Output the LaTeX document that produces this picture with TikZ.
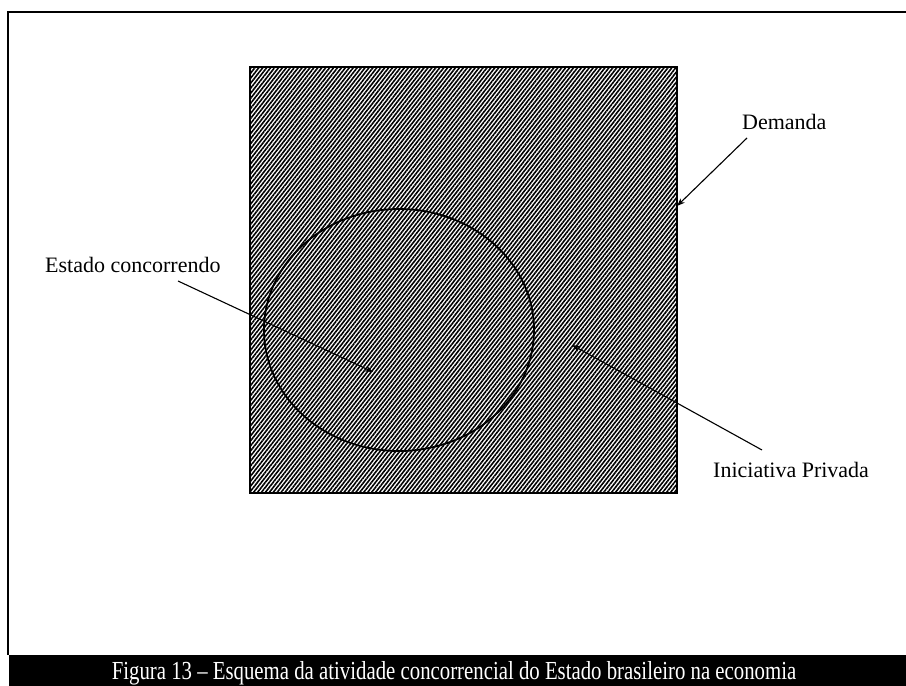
\documentclass[tikz,border=0pt]{standalone}
\usepackage{fontspec}
\setmainfont{Liberation Serif}
\usetikzlibrary{arrows.meta,patterns.meta}
\begin{document}
\begin{tikzpicture}[x=1pt,y=-1pt,
  lbl/.style={font=\fontsize{22}{25}\selectfont, inner sep=0pt, anchor=base west},
  pointer/.style={line width=1.1pt, -{Stealth[length=8pt,width=6pt]}},
  hatch/.style={pattern={Lines[angle=52,distance=3.1pt,line width=1.6pt]}}]
  \useasboundingbox (0,0) rectangle (906,686);
  % page frame
  \draw[line width=1.6pt] (906,12) -- (8,12) -- (8,655);
  % caption bar
  \fill[black] (9,655) rectangle (906,686);
  \node[text=white, inner sep=0pt, anchor=base, xscale=0.8, transform shape,
        font=\fontsize{26}{28}\selectfont] (cap) at (454,679)
    {Figura 13 -- Esquema da atividade concorrencial do Estado brasileiro na economia};
  % market (demand) square
  \draw[hatch, line width=2pt] (250,67) rectangle (677,493);
  \coordinate (sqedge) at (677,206);
  % state as competitor
  \draw[line width=1.8pt] (399,330) ellipse [x radius=135, y radius=121];
  \coordinate (instate) at (373,372);
  \coordinate (inprivate) at (572,345);
  % labels
  \node[lbl] (dem) at (742,129) {Demanda};
  \node[lbl] (est) at (45,272) {Estado concorrendo};
  \node[lbl] (ini) at (713,477) {Iniciativa Privada};
  \coordinate (demfoot) at (747,138);
  \coordinate (estfoot) at (178,281);
  \coordinate (inifoot) at (762,450);
  \draw[pointer] (demfoot) -- (sqedge);
  \draw[pointer] (estfoot) -- (instate);
  \draw[pointer] (inifoot) -- (inprivate);
\end{tikzpicture}
\end{document}
